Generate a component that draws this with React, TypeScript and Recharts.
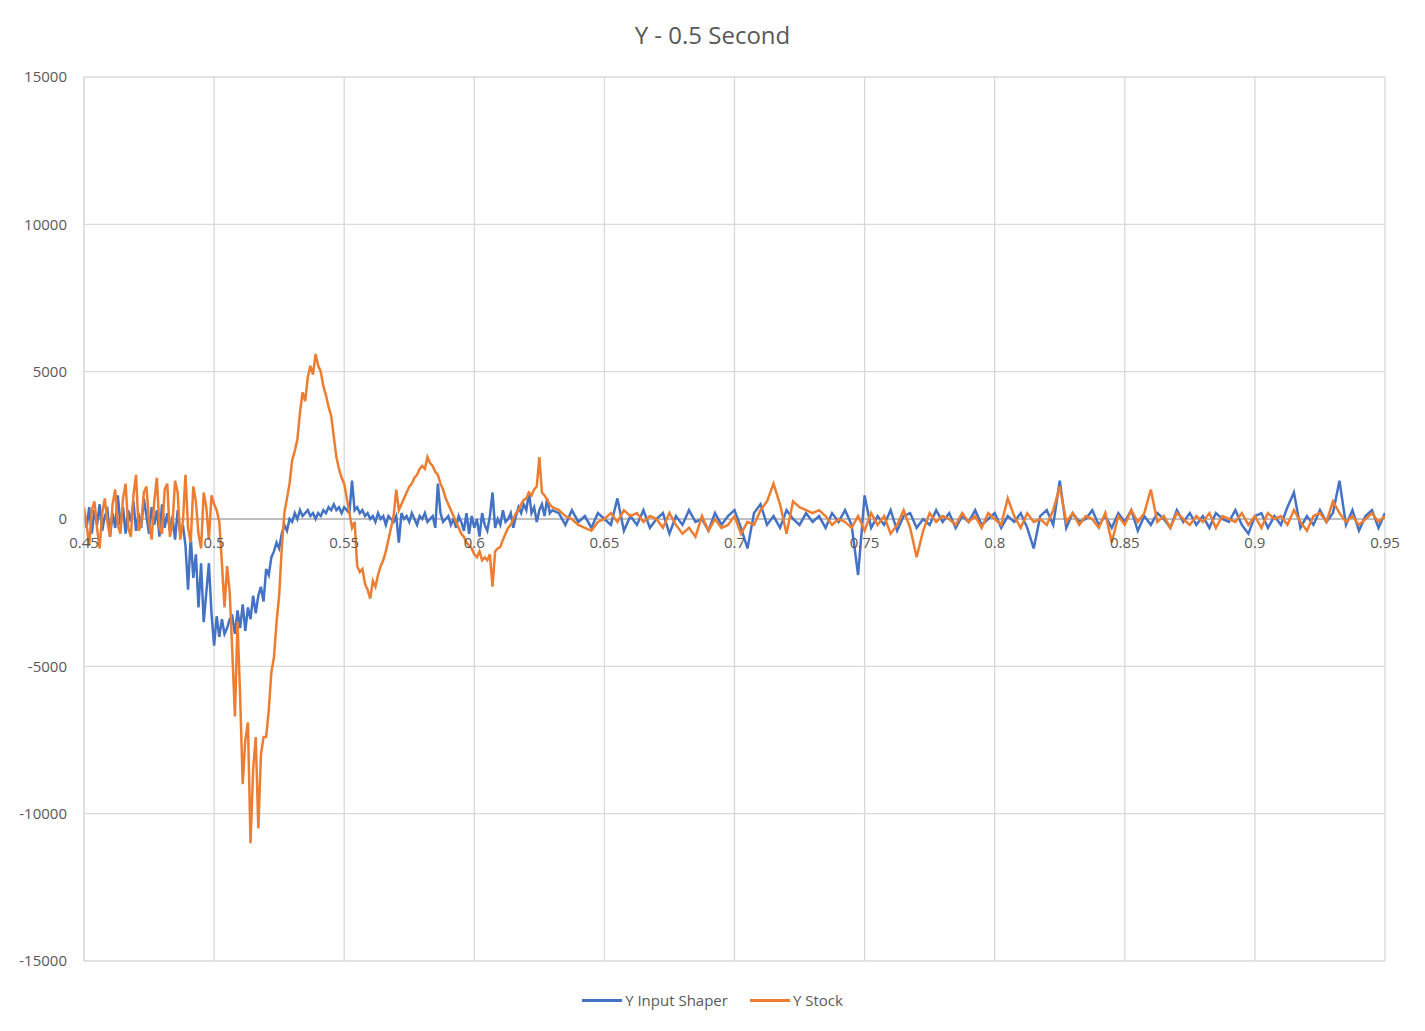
import { LineChart, Line, XAxis, YAxis, CartesianGrid, ReferenceLine } from "recharts";

// fine sampling 0.450..0.630 (step 0.001), then 0.6325..0.95 (step 0.0025)
const fineStart = 0.45;
const coarseStart = 0.6325;

const shaperFine = [
  200, -300, 400, -500, 300, -200, 500, -400, 100, 300,
  -600, 200, -300, 800, -200, 400, -500, 300, -100, 600,
  -400, 200, -300, 700, 100, -500, 400, -200, 300, -600,
  500, -300, 200, -400, 100, -700, 300, -500, -200, -900,
  -2400, -600, -2000, -1200, -3000, -1500, -3500, -2500, -1500, -3200,
  -4300, -3300, -4000, -3400, -3900, -3700, -3400, -3300, -3900, -3100,
  -3700, -2900, -3800, -3000, -3400, -2600, -3200, -2600, -2300, -2800,
  -1700, -1900, -1300, -1100, -800, -1000, -500, -200, -400, 0,
  -100, 200, 0, 300, 100, 200, 300, 100, 200, 0,
  200, 100, 300, 200, 400, 300, 500, 300, 400, 200,
  400, 300, 200, 1300, 300, 400, 200, 300, 100, 200,
  0, 100, -100, 200, 0, 100, -200, 100, 0, -100,
  100, -800, 200, 0, 100, -100, 200, 0, -200, 100,
  0, 200, -100, 0, 100, -300, 1200, 200, -100, 0,
  100, -200, 0, -300, 100, -100, -400, 200, -500, 100,
  -300, 0, -600, 200, -200, -400, 100, 900, -300, 0,
  -200, 300, -100, 0, 200, -300, 100, 400, 200, 500,
  300, 900, 200, 400, -100, 300, 500, 100, 700, 200, 300,
];

const shaperCoarse = [
  200, -200, 300, -100, 100, -300, 200, 0, -200, 700,
  -400, 100, -200, 300, -300, 0, 200, -500, 100, -200,
  300, -100, 0, -400, 200, -200, 100, 300, -300, -1000,
  200, 500, -200, 100, -300, 300, 0, -200, 200, -100,
  100, -300, 200, -100, 300, -200, -1900, 800, -300, 100,
  -200, 300, -400, 100, 200, -300, 0, -200, 300, -100,
  200, -300, 100, -100, 300, -200, 0, 200, -300, 100,
  -100, 200, -300, -1000, 100, 300, -200, 1300, -300, 200,
  -100, 0, 300, -200, 100, -300, 200, -100, 300, -400,
  100, -200, 200, 0, -300, 300, -100, 200, -200, 100,
  -300, 200, 0, -100, 300, -200, -500, 100, 200, -300,
  100, -200, 400, 900, -300, 100, -200, 300, -100, 200,
  1300, -200, 300, -400, 100, 300, -300, 200,
];

const stockFine = [
  400, -200, -900, 300, 600, -300, -1000, 200, 700, -100,
  -600, 500, 1000, -200, -500, 700, 1200, -300, -600, 800,
  1500, -400, -200, 900, 1100, -100, -700, 600, 1400, -300,
  -500, 1000, 1200, -600, -200, 1300, 900, -700, -100, 1500,
  -300, -800, 1100, 600, -500, -1000, 900, 400, -700, 800,
  500, 300, -100, -1500, -3000, -1600, -2500, -4500, -6700, -3500,
  -6000, -9000, -7500, -6900, -11000, -8500, -7400, -10500, -8000, -7400,
  -7400, -6500, -5200, -4700, -3500, -2600, -1000, 200, 700, 1200,
  2000, 2300, 2700, 3600, 4300, 4000, 4800, 5200, 4900, 5600,
  5200, 5000, 4500, 4200, 3800, 3500, 2800, 2100, 1700, 1400,
  1200, 700, 200, -300, -100, -1600, -1800, -1700, -2200, -2400,
  -2700, -2100, -2300, -1900, -1600, -1400, -1100, -700, -300, 100,
  1000, 300, 500, 700, 900, 1100, 1200, 1400, 1500, 1700,
  1800, 1700, 2100, 1900, 1800, 1600, 1500, 1200, 1000, 700,
  500, 300, 100, -100, -300, -500, -600, -800, -900, -1000,
  -1200, -1300, -1100, -1400, -1300, -1400, -1200, -2300, -1100, -1000,
  -950, -700, -500, -300, -200, 0, 200, 300, 500, 650,
  700, 900, 800, 1000, 1100, 2100, 900, 800, 650, 500, 400,
];

const stockCoarse = [
  300, 100, 0, -200, -300, -400, -100, 0, 200, -100,
  300, 100, 200, -100, 100, 0, -300, 200, -200, -500,
  -300, -600, 100, -400, 0, -300, -200, 100, -500, -100,
  -200, 300, 600, 1200, 500, -500, 600, 400, 300, 200,
  300, 100, -200, 0, -100, -300, 100, -400, 200, -200,
  100, -500, -200, 300, -300, -1300, -400, 200, -100, 100,
  0, -200, 200, -100, 100, -300, 200, 0, -200, 700,
  100, -300, 200, -100, 0, -200, 300, 1100, -100, 200,
  -200, 100, 0, -300, 200, -800, 100, -200, 300, -100,
  200, 1000, -100, 100, -300, 200, 0, -200, 100, -100,
  200, -300, 100, 0, -100, 200, -200, 100, -300, 200,
  0, 100, -200, 300, -100, -400, 100, 200, -100, 600,
  200, -100, 100, -200, 0, 200, -100, 100,
];

const xTicks = [0.45, 0.5, 0.55, 0.6, 0.65, 0.7, 0.75, 0.8, 0.85, 0.9, 0.95];
const yTicks = [-15000, -10000, -5000, 0, 5000, 10000, 15000];

const data = [
  ...shaperFine.map((v, i) => ({ t: +(fineStart + i * 0.001).toFixed(4), shaper: v, stock: stockFine[i] })),
  ...shaperCoarse.map((v, i) => ({ t: +(coarseStart + i * 0.0025).toFixed(4), shaper: v, stock: stockCoarse[i] })),
];

const W = 1425;
const H = 1031;
const TOP = 77;
const BOTTOM = 70;
const zeroY = TOP + (H - TOP - BOTTOM) / 2;
const FONT = "'Open Sans', 'Liberation Sans', sans-serif";

const XTick = ({ x, payload }: any) => (
  <text x={x} y={zeroY + 25} textAnchor="middle" dominantBaseline="middle" fill="#595959" fontSize={15} fontFamily={FONT}>
    {payload.value}
  </text>
);

export default function App() {
  return (
    <div style={{ position: "absolute", left: 0, top: 0, width: W, height: H, background: "#fff" }}>
      <div style={{ position: "absolute", top: 18, width: W, textAlign: "center", fontFamily: FONT, fontSize: 24, color: "#595959" }}>
        Y - 0.5 Second
      </div>
      <LineChart width={W} height={H} data={data} margin={{ top: TOP, right: 40, left: 0, bottom: 0 }}>
        <CartesianGrid stroke="#d9d9d9" strokeWidth={1.3} />
        <XAxis
          dataKey="t"
          type="number"
          domain={[0.45, 0.95]}
          ticks={xTicks}
          axisLine={false}
          tickLine={false}
          tick={<XTick />}
          height={BOTTOM}
          allowDataOverflow
        />
        <YAxis
          domain={[-15000, 15000]}
          ticks={yTicks}
          width={84}
          axisLine={{ stroke: "#d9d9d9" }}
          tickLine={false}
          tickSize={0}
          tickMargin={17}
          tick={{ fill: "#595959", fontSize: 15, fontFamily: FONT }}
        />
        <ReferenceLine y={0} stroke="#bfbfbf" strokeWidth={2} />
        <Line dataKey="shaper" stroke="#4472C4" strokeWidth={2.5} dot={false} isAnimationActive={false} />
        <Line dataKey="stock" stroke="#ED7D31" strokeWidth={2.5} dot={false} isAnimationActive={false} />
      </LineChart>
      <div style={{ position: "absolute", top: 990, width: W, display: "flex", justifyContent: "center", gap: 22, fontFamily: FONT, fontSize: 15, color: "#595959" }}>
        {[
          { name: "Y Input Shaper", color: "#4472C4" },
          { name: "Y Stock", color: "#ED7D31" },
        ].map((it) => (
          <div key={it.name} style={{ display: "flex", alignItems: "center", gap: 3 }}>
            <div style={{ width: 40, height: 3, background: it.color }} />
            <span>{it.name}</span>
          </div>
        ))}
      </div>
    </div>
  );
}
